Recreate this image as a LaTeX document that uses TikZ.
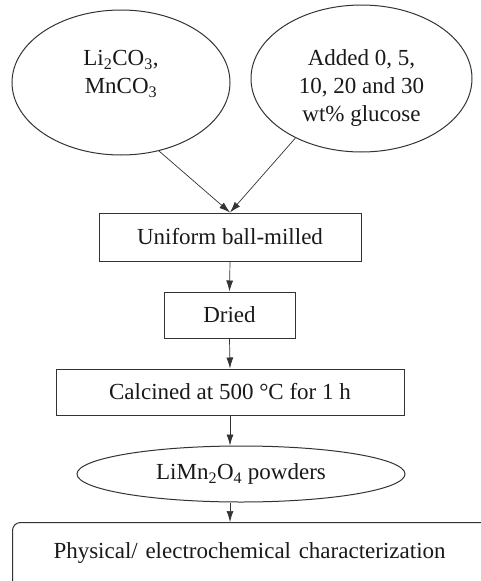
\documentclass[tikz,border=0pt]{standalone}
\usepackage{fontspec}
\setmainfont{Liberation Serif}
\usetikzlibrary{shapes}
\usetikzlibrary{arrows.meta}

\begin{document}
\begin{tikzpicture}[x=1pt,y=-1pt,
  font=\fontsize{23}{28}\selectfont, text=black!90,
  box/.style={draw=black!80, line width=1pt, minimum height=46pt, inner sep=0pt},
  oval/.style={draw=black!80, line width=1pt, ellipse, inner sep=0pt},
  txt/.style={align=center, inner sep=0pt, anchor=north},
  arr/.style={-{Latex[length=11pt,width=7pt]}, line width=0.7pt, draw=black!80}]
\clip (0,0) rectangle (481,581);
% raw materials
\node[oval, minimum width=218pt, minimum height=145pt] (raw) at (121,82.5) {};
\node[txt] (rawtxt) at (121,50) {Li\textsubscript{2}CO\textsubscript{3},\\MnCO\textsubscript{3}};
\node[oval, minimum width=221pt, minimum height=147pt] (glu) at (361.5,78.5) {};
\node[txt] (glutxt) at (361.5,49) {Added 0, 5,\\10, 20 and 30\\wt\% glucose};
% process steps
\node[box, minimum width=262pt, minimum height=48pt] (ball) at (230,237) {Uniform ball-milled};
\node[box, minimum width=131pt] (dried) at (229.5,315) {Dried};
\node[box, minimum width=348pt] (calc) at (230,392) {Calcined at 500 °C for 1 h};
\node[oval, minimum width=328pt, minimum height=56pt] (powd) at (241,474) {LiMn\textsubscript{2}O\textsubscript{4} powders};
\node[box, rounded corners=8pt, anchor=north west, align=left, text width=440pt,
  inner xsep=41pt, inner ysep=20pt, text height=16pt, text depth=20pt] (char) at (12,522)
  {Physical/ electrochemical characterization};
% arrows
\draw[arr] (raw.-61) -- (ball.north);
\draw[arr] (glu.-138) -- (ball.north);
\draw[arr] (ball.south) -- (dried.north);
\draw[arr] (dried.south) -- (calc.north);
\draw[arr] (calc.south) -- (calc.south |- powd.north);
\draw[arr] (calc.south |- powd.south) -- (calc.south |- char.north);
\end{tikzpicture}
\end{document}
